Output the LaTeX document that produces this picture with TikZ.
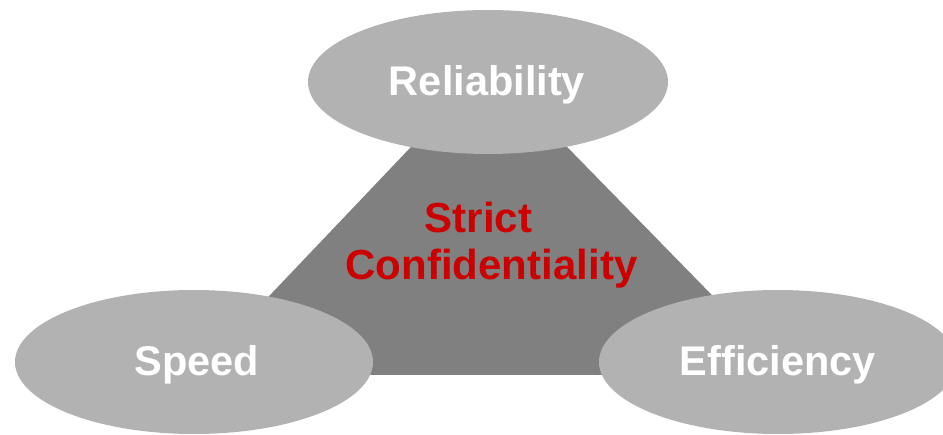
\documentclass[tikz,border=0pt]{standalone}
\usepackage{fontspec}
\setmainfont{Liberation Sans}
\usetikzlibrary{shapes.geometric}
\definecolor{ellgray}{HTML}{B2B2B2}
\definecolor{trigray}{HTML}{808080}
\definecolor{textred}{HTML}{CC0000}
\begin{document}
\begin{tikzpicture}[x=1pt,y=1pt,
  bubble/.style={ellipse, fill=ellgray, draw=none, inner sep=0pt,
    minimum width=358pt, minimum height=144pt},
  bubbletext/.style={text=white, inner sep=0pt, yshift=-3pt,
    font=\bfseries\fontsize{41.5}{47}\selectfont},
  core/.style={fill=trigray, draw=none},
  centertext/.style={text=textred, align=center,
    font=\bfseries\fontsize{42}{47}\selectfont}]
\useasboundingbox (0,0) rectangle (943,434);
\coordinate (apex) at (488,368);
\coordinate (bl) at (194,59);
\coordinate (br) at (790,59);
\fill[core] (apex) -- (bl) -- (br) -- cycle;
\node[bubble, minimum width=360pt] (rel) at (488,352) {};
\node[bubbletext, xshift=-1pt] (reltext) at (rel.center) {Reliability};
\node[bubble] (spd) at (194,72) {};
\node[bubbletext, xshift=3pt] (spdtext) at (spd.center) {Speed};
\node[bubble] (eff) at (778,72) {};
\node[bubbletext] (efftext) at (eff.center) {Efficiency};
\node[centertext] (conf) at (491.5,188.5) {\hspace*{-26pt}Strict\\Confidentiality};
\end{tikzpicture}
\end{document}
